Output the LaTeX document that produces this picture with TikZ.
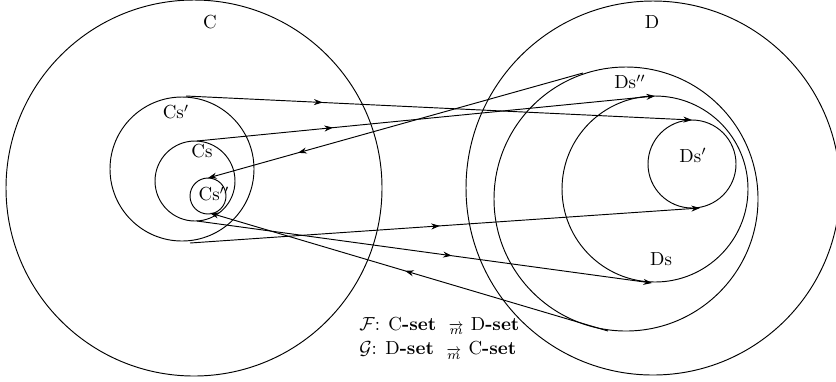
\documentclass[tikz,border=0pt]{standalone}
\usepackage{amsmath}
\usetikzlibrary{arrows.meta,decorations.markings}
\tikzset{
  setline/.style={line width=0.5pt},
  conn/.style={line width=0.5pt,-{Stealth[length=4.6pt,width=3.2pt]}},
  midarrow/.style={postaction={decorate},decoration={markings,
      mark=at position #1 with {\arrow{Stealth[length=4.6pt,width=3.2pt]}}}},
  lbl/.style={inner sep=0pt}
}
\begin{document}
\begin{tikzpicture}[x=0.53pt,y=-0.53pt]
\useasboundingbox (0,0) rectangle (836,381);
% circles
\draw[setline] (194,188) circle[radius=188];
\draw[setline] (653,188) circle[radius=187];
\draw[setline] (182,169) circle[radius=72];
\draw[setline] (195,181) circle[radius=40];
\draw[setline] (208,196) circle[radius=18];
\draw[setline] (626,199) circle[radius=132];
\draw[setline] (655,189) circle[radius=93];
\draw[setline] (692,164) circle[radius=44];
% labels
\node[lbl] (lC) at (210,22) {C};
\node[lbl] (lD) at (652,22) {D};
\node[lbl] (lCs1) at (176,112) {Cs$'$};
\node[lbl] (lCs) at (202,151) {Cs};
\node[lbl] (lCs2) at (214,194) {Cs$''$};
\node[lbl] (lDs2) at (630,82) {Ds$''$};
\node[lbl] (lDs1) at (693,155) {Ds$'$};
\node[lbl] (lDs) at (661,259) {Ds};
% endpoints
\coordinate (a1) at (186,96);  \coordinate (a2) at (692,120);
\coordinate (b1) at (197,141); \coordinate (b2) at (655,96);
\coordinate (c1) at (583,73);  \coordinate (c2) at (208,178);
\coordinate (d1) at (190,243); \coordinate (d2) at (700,208);
\coordinate (e1) at (197,221); \coordinate (e2) at (652,283);
\coordinate (f1) at (608,331); \coordinate (f2) at (210,213);
% connectors
\draw[conn,midarrow=0.27] (a1) -- (a2);
\draw[conn,midarrow=0.297] (b1) -- (b2);
\draw[conn,midarrow=0.76] (c1) -- (c2);
\draw[conn,midarrow=0.49] (d1) -- (d2);
\draw[conn,midarrow=0.56] (e1) -- (e2);
\draw[conn,midarrow=0.51] (f1) -- (f2);
% legend
\node[lbl,anchor=west,align=left] (legend) at (359,338)
  {$\mathcal{F}$: C\textbf{-set}\ \ ${}_{\overrightarrow{m}}$ D\textbf{-set}\\[1pt]
   $\mathcal{G}$: D\textbf{-set}\ \ ${}_{\overrightarrow{m}}$ C\textbf{-set}};
\end{tikzpicture}
\end{document}
